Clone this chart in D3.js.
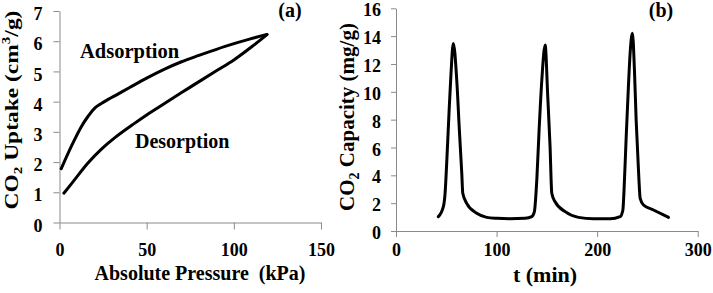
<!DOCTYPE html>
<html>
<head>
<meta charset="utf-8">
<script src="https://cdn.jsdelivr.net/npm/d3@7"></script>
<style>
  html, body { margin: 0; padding: 0; background: #fff; }
  svg { display: block; }
  text { font-family: "Liberation Serif", "Times New Roman", serif; font-weight: bold; fill: #000; }
</style>
</head>
<body>
<svg id="chart" width="713" height="293"></svg>
<script>
// ---------- Panel (a) data: CO2 uptake isotherm ----------
const adsorptionP = [1, 6.7, 12.5, 16.2, 20.1, 25.8, 33.5, 40, 50, 60, 70, 80, 95, 109, 119];
const adsorptionQ = [1.78, 2.51, 3.17, 3.5, 3.78, 4.0, 4.25, 4.46, 4.78, 5.07, 5.32, 5.53, 5.83, 6.07, 6.22];
const desorptionP = [2.5, 8.6, 16.2, 23.9, 31.6, 43, 50, 60, 75, 90, 100, 111, 119];
const desorptionQ = [0.97, 1.41, 1.96, 2.42, 2.8, 3.28, 3.56, 3.93, 4.48, 5.02, 5.38, 5.85, 6.22];
const aXTicks = [0, 50, 100, 150];
const aYTicks = [0, 1, 2, 3, 4, 5, 6, 7];

// ---------- Panel (b) data: CO2 capacity vs time ----------
const timeMin = [42.1, 47.1, 48.8, 50.4, 52.7, 54.7, 57.0, 60.4, 63.0, 65.4, 66.4, 70.3, 80.3, 90.2, 100.2,
                 113, 128.4, 135.0, 137.6, 140.0, 142.3, 145.0, 148.3, 150.9, 153.2, 154.9, 158.2, 168.2, 181.4, 196.3,
                 212.9, 222.9, 225.6, 226.9, 228.9, 231.1, 232.8, 235.1, 237.1, 238.8, 241.1, 242.8, 246.1, 256.0, 270.9];
const capacity = [1.03, 1.75, 2.71, 4.86, 8.46, 11.33, 13.48, 10.85, 7.26, 4.15, 2.71, 1.99, 1.27, 0.98, 0.91,
                  0.88, 0.91, 1.03, 1.39, 3.66, 7.26, 10.85, 13.36, 9.65, 6.06, 2.71, 2.10, 1.39, 0.98, 0.88,
                  0.88, 1.03, 1.51, 3.18, 6.77, 10.37, 12.77, 14.2, 11.57, 7.97, 4.38, 2.35, 1.87, 1.51, 0.98];
const bXTicks = [0, 100, 200, 300];
const bYTicks = [0, 2, 4, 6, 8, 10, 12, 14, 16];

const svg = d3.select("#chart");
const axisColor = "#8a8a8a";
const fmt = d3.format("d");

function styleAxis(g) {
  g.attr("font-family", null).attr("font-size", null);
  g.selectAll("path.domain").attr("stroke", axisColor).attr("stroke-width", 1);
  g.selectAll(".tick line").attr("stroke", axisColor).attr("stroke-width", 1);
  g.selectAll(".tick text")
    .style("font-family", "'Liberation Serif', 'Times New Roman', serif")
    .style("font-weight", "bold")
    .style("font-size", "18px")
    .attr("fill", "#000");
}

// ---------- Panel (a) ----------
const ax = d3.scaleLinear().domain([0, 150]).range([59.5, 321]);
const ay = d3.scaleLinear().domain([0, 7]).range([222.5, 11]);

const gax = svg.append("g").attr("transform", `translate(0,${ay(0)})`)
  .call(d3.axisBottom(ax).tickValues(aXTicks).tickFormat(fmt).tickSizeInner(7).tickSizeOuter(0).tickPadding(14));
styleAxis(gax);
const gay = svg.append("g").attr("transform", `translate(${ax(0)},0)`)
  .call(d3.axisLeft(ay).tickValues(aYTicks).tickFormat(fmt).tickSizeInner(6).tickSizeOuter(0).tickPadding(11));
styleAxis(gay);
gay.selectAll(".tick text").attr("dy", "0.48em");

const lineA = d3.line().x(d => ax(d[0])).y(d => ay(d[1])).curve(d3.curveCatmullRom.alpha(0.5));
svg.append("path")
  .datum(adsorptionP.map((p, i) => [p, adsorptionQ[i]]))
  .attr("d", lineA).attr("fill", "none").attr("stroke", "#000")
  .attr("stroke-width", 3).attr("stroke-linecap", "round").attr("stroke-linejoin", "round");
svg.append("path")
  .datum(desorptionP.map((p, i) => [p, desorptionQ[i]]))
  .attr("d", lineA).attr("fill", "none").attr("stroke", "#000")
  .attr("stroke-width", 3).attr("stroke-linecap", "round").attr("stroke-linejoin", "round");

svg.append("text").attr("x", 80).attr("y", 58).attr("font-size", 20.5).text("Adsorption");
svg.append("text").attr("x", 135).attr("y", 148).attr("font-size", 20).text("Desorption");
svg.append("text").attr("x", 290).attr("y", 17).attr("font-size", 20).attr("text-anchor", "middle").text("(a)");

svg.append("text").attr("x", 200).attr("y", 280).attr("font-size", 20)
  .attr("text-anchor", "middle").style("white-space", "pre").text("Absolute Pressure  (kPa)");

const ytA = svg.append("text").attr("transform", "translate(17.5,110) rotate(-90) scale(1,0.82)")
  .attr("text-anchor", "middle").attr("font-size", 23.5);
ytA.append("tspan").text("CO");
ytA.append("tspan").attr("font-size", 15).attr("dy", 6).text("2");
ytA.append("tspan").attr("dy", -6).text(" Uptake (cm");
ytA.append("tspan").attr("font-size", 15).attr("dy", -9).text("3");
ytA.append("tspan").attr("dy", 9).text("/g)");

// ---------- Panel (b) ----------
const bx = d3.scaleLinear().domain([0, 300]).range([396, 697.7]);
const by = d3.scaleLinear().domain([0, 16]).range([231, 8.3]);

const gbx = svg.append("g").attr("transform", `translate(0,${by(0)})`)
  .call(d3.axisBottom(bx).tickValues(bXTicks).tickFormat(fmt).tickSizeInner(6).tickSizeOuter(0).tickPadding(6));
styleAxis(gbx);
const gby = svg.append("g").attr("transform", `translate(${bx(0)},0)`)
  .call(d3.axisLeft(by).tickValues(bYTicks).tickFormat(fmt).tickSizeInner(5).tickSizeOuter(0).tickPadding(10));
styleAxis(gby);
gby.selectAll(".tick text").attr("dy", "0.42em");

const lineB = d3.line().x(d => bx(d[0])).y(d => by(d[1])).curve(d3.curveMonotoneX);
svg.append("path")
  .datum(timeMin.map((t, i) => [t, capacity[i]]))
  .attr("d", lineB).attr("fill", "none").attr("stroke", "#000")
  .attr("stroke-width", 3).attr("stroke-linecap", "round").attr("stroke-linejoin", "round");

svg.append("text").attr("x", 661).attr("y", 17).attr("font-size", 20).attr("text-anchor", "middle").text("(b)");
svg.append("text").attr("x", 545).attr("y", 282).attr("font-size", 22)
  .attr("text-anchor", "middle").text("t (min)");

const ytB = svg.append("text").attr("transform", "translate(354,117) rotate(-90)")
  .attr("text-anchor", "middle").attr("font-size", 21);
ytB.append("tspan").text("CO");
ytB.append("tspan").attr("font-size", 14).attr("dy", 5).text("2");
ytB.append("tspan").attr("dy", -5).text(" Capacity (mg/g)");
</script>
</body>
</html>
